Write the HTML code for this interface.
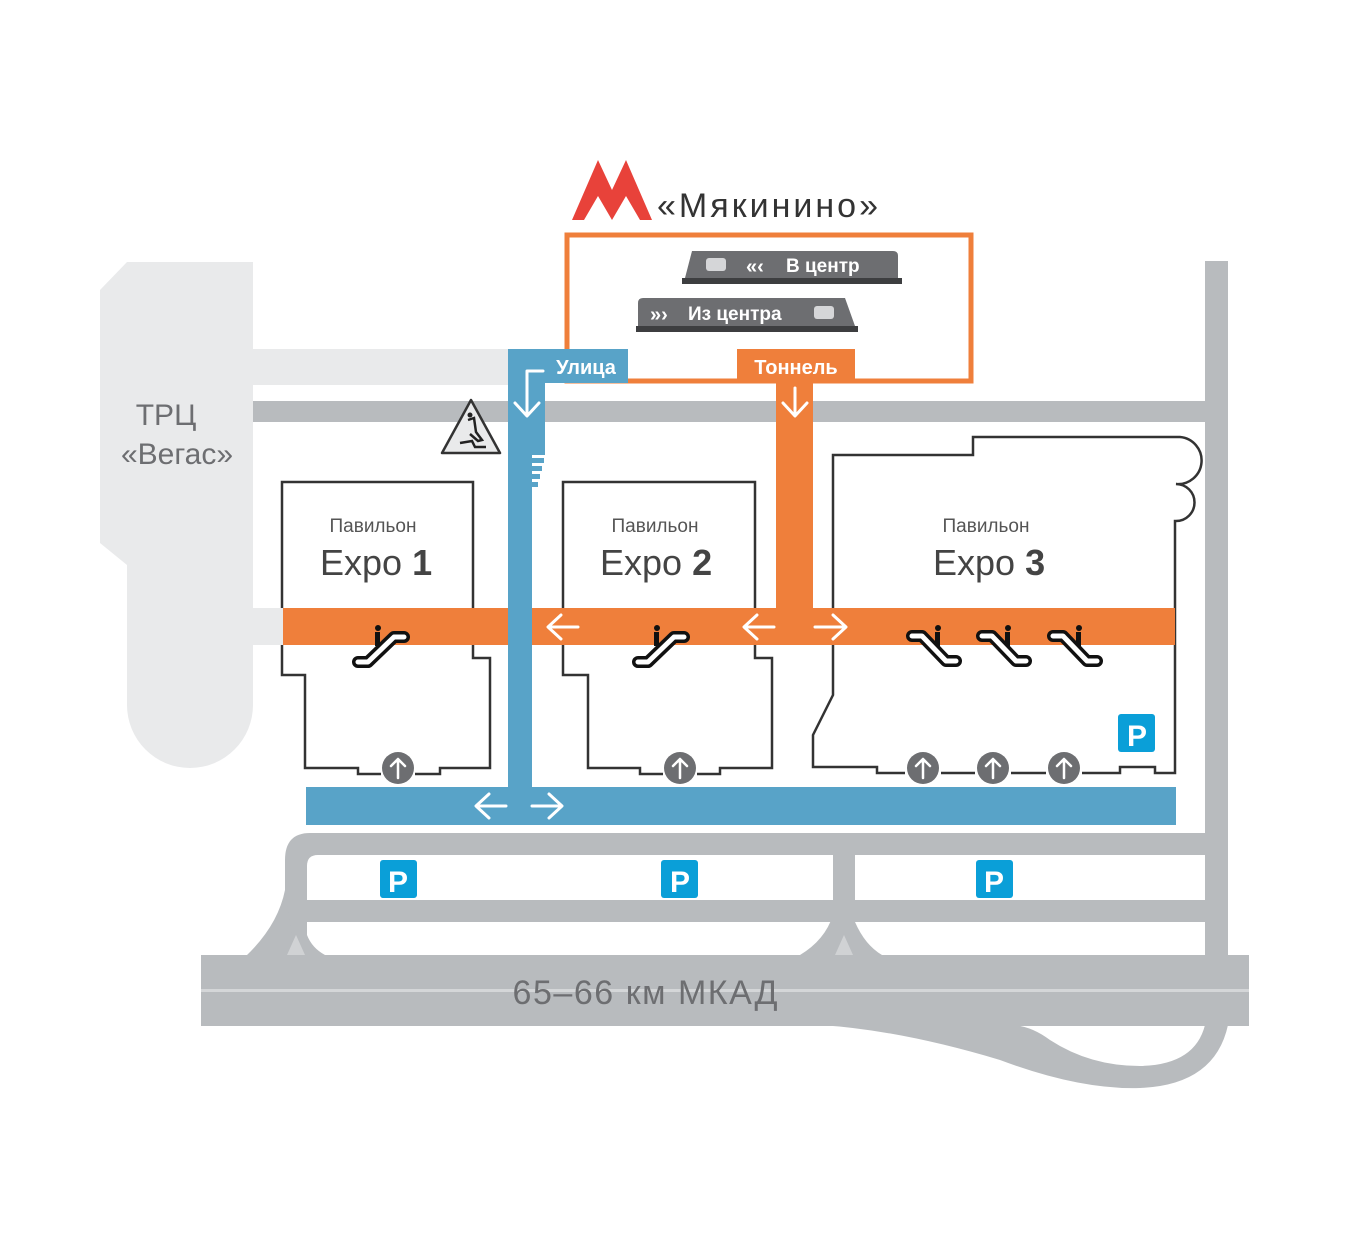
<!DOCTYPE html>
<html><head><meta charset="utf-8"><style>
html,body{margin:0;padding:0;background:#fff}
svg{display:block}
text{font-family:"Liberation Sans","DejaVu Sans",sans-serif}
</style></head><body>
<svg width="1350" height="1240" viewBox="0 0 1350 1240" xmlns="http://www.w3.org/2000/svg">
<!-- TRC Vegas -->
<path d="M127,262 L253,262 L253,705 A63,63 0 0 1 127,705 L127,565 L100,543 L100,290 Z" fill="#e9eaeb"/>
<rect x="253" y="349" width="260" height="36" fill="#e9eaeb"/>
<rect x="253" y="608" width="32" height="37" fill="#e9eaeb"/>
<text x="166" y="425" font-size="30" fill="#6d6e71" text-anchor="middle">ТРЦ</text>
<text x="177" y="464" font-size="30" fill="#6d6e71" text-anchor="middle">«Вегас»</text>
<!-- roads -->
<rect x="253" y="401" width="975" height="21" fill="#b8bbbe"/>
<rect x="1205" y="261" width="23" height="700" fill="#b8bbbe"/>
<path d="M285,955 L285,860 Q285,833 310,833 L1207,833 L1207,855 L318,855 Q307,855 307,866 L307,900 L1207,900 L1207,922 L307,922 L307,935 Q312,948 325,955 Z" fill="#b8bbbe"/>
<path d="M247,955 Q278,925 285,890 L295,955 Z" fill="#b8bbbe"/>
<path d="M833,855 L855,855 L855,922 Q865,945 882,955 L800,955 Q825,940 833,915 Z" fill="#b8bbbe"/>
<path d="M287,955 L296,935 L305,955 Z M835,955 L844,935 L853,955 Z" fill="#d0d2d4"/>
<path d="M820,1025 Q900,1030 1000,1060 Q1080,1090 1140,1088 Q1215,1085 1228,1025 L1205,1025 Q1195,1065 1140,1066 Q1090,1066 1050,1040 Q1030,1025 1010,1025 Z" fill="#b8bbbe"/>
<rect x="201" y="955" width="1048" height="71" fill="#b8bbbe"/>
<rect x="201" y="989" width="1048" height="3" fill="#d4d6d8"/>
<text x="645" y="1004" font-size="34" fill="#6d6e71" text-anchor="middle" textLength="265">65–66 км МКАД</text>
<!-- parking -->
<g font-size="30" font-weight="bold" fill="#fff" text-anchor="middle">
<rect x="380" y="860" width="37" height="38" rx="3" fill="#0a9fd8"/><text x="398" y="892">P</text>
<rect x="661" y="860" width="37" height="38" rx="3" fill="#0a9fd8"/><text x="680" y="892">P</text>
<rect x="976" y="860" width="37" height="38" rx="3" fill="#0a9fd8"/><text x="994" y="892">P</text>
<rect x="1118" y="714" width="37" height="38" rx="3" fill="#0a9fd8"/><text x="1137" y="746">P</text>
</g>
<!-- pavilions -->
<g fill="none" stroke="#333" stroke-width="2.5">
<path d="M282,608 L282,482 L473,482 L473,608 M473,645 L473,658 L490,658 L490,768 L440,768 L440,774 L415,774 M381,774 L358,774 L358,768 L305,768 L305,675 L282,675 L282,645"/>
<path d="M563,608 L563,482 L755,482 L755,608 M755,645 L755,658 L772,658 L772,768 L720,768 L720,774 L697,774 M663,774 L640,774 L640,768 L588,768 L588,675 L563,675 L563,645"/>
<path d="M833,608 L833,455 L973,455 L973,437 L1180,437 A16,16 0 0 1 1176,484 A17,17 0 0 1 1176,521 L1175,521 L1175,773 L1155,773 L1155,767 L1120,767 L1120,773 L1082,773 M1046,773 L1011,773 M975,773 L941,773 M905,773 L877,773 L877,767 L813,767 L813,735 L833,695 L833,645"/>
</g>
<g fill="#6d6e71">
<circle cx="398" cy="768" r="16"/><circle cx="680" cy="768" r="16"/><circle cx="923" cy="768" r="16"/><circle cx="993" cy="768" r="16"/><circle cx="1064" cy="768" r="16"/>
</g>
<g fill="none" stroke="#fff" stroke-width="2.5" stroke-linecap="round" stroke-linejoin="round">
<path d="M398,778 L398,760 M391,766 L398,759 L405,766"/>
<path d="M680,778 L680,760 M673,766 L680,759 L687,766"/>
<path d="M923,778 L923,760 M916,766 L923,759 L930,766"/>
<path d="M993,778 L993,760 M986,766 L993,759 L1000,766"/>
<path d="M1064,778 L1064,760 M1057,766 L1064,759 L1071,766"/>
</g>
<text x="373" y="532" font-size="19" fill="#555" text-anchor="middle">Павильон</text>
<text x="320" y="575" font-size="36" fill="#444">Expo <tspan font-weight="bold">1</tspan></text>
<text x="655" y="532" font-size="19" fill="#555" text-anchor="middle">Павильон</text>
<text x="600" y="575" font-size="36" fill="#444">Expo <tspan font-weight="bold">2</tspan></text>
<text x="986" y="532" font-size="19" fill="#555" text-anchor="middle">Павильон</text>
<text x="933" y="575" font-size="36" fill="#444">Expo <tspan font-weight="bold">3</tspan></text>
<!-- orange -->
<rect x="567" y="235" width="404" height="146" fill="none" stroke="#ef7f3b" stroke-width="5"/>
<rect x="737" y="349" width="118" height="34" fill="#ef7f3b"/>
<rect x="776" y="380" width="37" height="230" fill="#ef7f3b"/>
<rect x="283" y="608" width="892" height="37" fill="#ef7f3b"/>
<text x="796" y="374" font-size="20" font-weight="bold" fill="#fff" text-anchor="middle">Тоннель</text>
<!-- blue -->
<rect x="508" y="349" width="120" height="34" fill="#58a3c8"/>
<rect x="508" y="349" width="37" height="106" fill="#58a3c8"/>
<rect x="508" y="455" width="24" height="335" fill="#58a3c8"/>
<g fill="#58a3c8"><rect x="508" y="458" width="36" height="5"/><rect x="508" y="466" width="34" height="5"/><rect x="508" y="474" width="32" height="5"/><rect x="508" y="482" width="30" height="5"/></g>
<rect x="306" y="787" width="870" height="38" fill="#58a3c8"/>
<text x="586" y="374" font-size="20" font-weight="bold" fill="#fff" text-anchor="middle">Улица</text>
<!-- arrows -->
<g fill="none" stroke="#fff" stroke-width="3" stroke-linecap="round" stroke-linejoin="round">
<path d="M543,371 L527,371 L527,415 M515,403 L527,416 L539,403"/>
<path d="M795,388 L795,415 M783,403 L795,416 L807,403"/>
<path d="M549,627 L578,627 M561,615 L548,627 L561,639"/>
<path d="M745,627 L774,627 M757,615 L744,627 L757,639"/>
<path d="M815,627 L845,627 M833,615 L846,627 L833,639"/>
<path d="M477,806 L506,806 M489,794 L476,806 L489,818"/>
<path d="M532,806 L561,806 M549,794 L562,806 L549,818"/>
</g>
<!-- escalators -->
<g fill="none" stroke-linecap="round" stroke-linejoin="round">
<g stroke="#111" stroke-width="12"><path d="M358,662 L368,662 L394,637 L404,637"/><path d="M638,662 L648,662 L674,637 L684,637"/>
<path d="M912,636 L922,636 L946,661 L956,661"/><path d="M982,636 L992,636 L1016,661 L1026,661"/><path d="M1053,636 L1063,636 L1087,661 L1097,661"/></g>
<g stroke="#fff" stroke-width="5"><path d="M358,662 L368,662 L394,637 L404,637"/><path d="M638,662 L648,662 L674,637 L684,637"/>
<path d="M912,636 L922,636 L946,661 L956,661"/><path d="M982,636 L992,636 L1016,661 L1026,661"/><path d="M1053,636 L1063,636 L1087,661 L1097,661"/></g>
</g>
<g fill="#111"><circle cx="378" cy="628" r="3"/><rect x="375" y="632" width="5" height="14"/>
<circle cx="657" cy="628" r="3"/><rect x="654" y="632" width="5" height="14"/>
<circle cx="938" cy="628" r="3"/><rect x="935" y="632" width="5" height="14"/>
<circle cx="1008" cy="628" r="3"/><rect x="1005" y="632" width="5" height="14"/>
<circle cx="1079" cy="628" r="3"/><rect x="1076" y="632" width="5" height="14"/></g>
<!-- warning sign -->
<path d="M471,400 L500,453 L442,453 Z" fill="#e9eaeb" stroke="#333" stroke-width="2.5" stroke-linejoin="round"/>
<path d="M468,420 L474,418 L476,432 L482,440 L478,441 L470,434 M460,443 L472,441 L475,447 L486,447" fill="none" stroke="#222" stroke-width="2.5"/>
<circle cx="470" cy="415" r="2.5" fill="#222"/>
<!-- metro -->
<path d="M572,220 L598,160 L612,190 L626,160 L652,220 L640,220 L626,196 L612,220 L598,196 L584,220 Z" fill="#e8423a"/>
<text x="657" y="217" font-size="34" fill="#333" textLength="221">«Мякинино»</text>
<!-- trains -->
<path d="M692,251 L893,251 Q898,251 898,256 L898,278 L685,278 Z" fill="#6d6e71"/>
<rect x="682" y="278" width="220" height="6" fill="#3d3e40"/>
<rect x="706" y="258" width="20" height="13" rx="3" fill="#d5d6d8"/>
<text x="746" y="273" font-size="20" font-weight="bold" fill="#fff">«‹</text>
<text x="786" y="272" font-size="19" font-weight="bold" fill="#fff">В центр</text>
<path d="M643,298 L845,298 L855,326 L638,326 L638,303 Q638,298 643,298 Z" fill="#6d6e71"/>
<rect x="636" y="326" width="222" height="6" fill="#3d3e40"/>
<rect x="814" y="306" width="20" height="13" rx="3" fill="#d5d6d8"/>
<text x="650" y="321" font-size="20" font-weight="bold" fill="#fff">»›</text>
<text x="688" y="320" font-size="19" font-weight="bold" fill="#fff">Из центра</text>
</svg>
</body></html>
